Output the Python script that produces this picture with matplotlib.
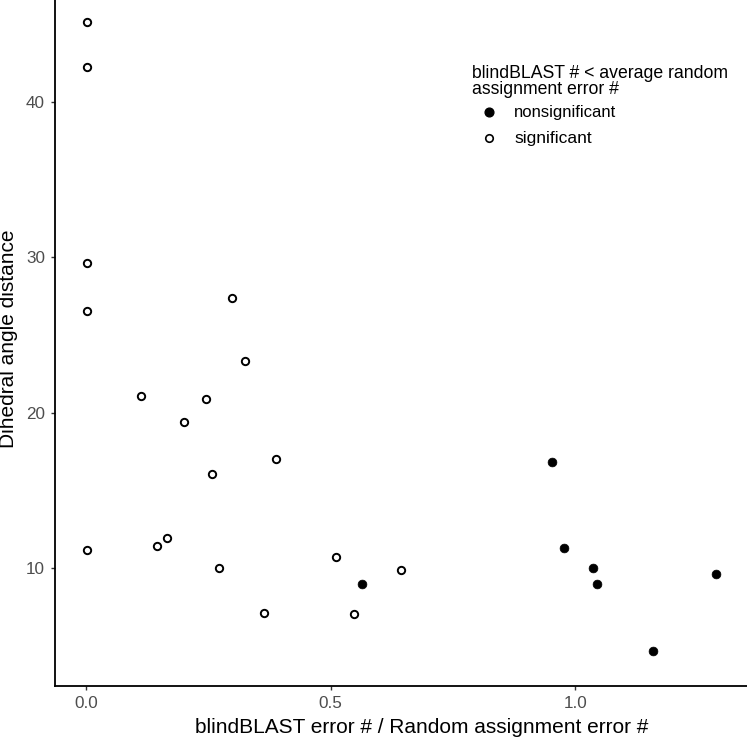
import matplotlib
matplotlib.use("Agg")
import matplotlib.pyplot as plt
from matplotlib.lines import Line2D

plt.rcParams['font.family'] = ['Liberation Sans', 'DejaVu Sans']

# significant (open circles)
sig_x = [0.003, 0.003, 0.003, 0.003, 0.003, 0.298, 0.325, 0.112, 0.245, 0.200,
         0.388, 0.257, 0.146, 0.166, 0.271, 0.363, 0.510, 0.643, 0.547]
sig_y = [45.14, 42.24, 29.62, 26.55, 11.16, 27.39, 23.35, 21.06, 20.86, 19.38,
         17.02, 16.07, 11.42, 11.95, 10.02, 7.08, 10.69, 9.89, 7.02]
# nonsignificant (filled circles)
non_x = [0.565, 0.952, 0.977, 1.036, 1.044, 1.288, 1.159]
non_y = [8.97, 16.80, 11.29, 10.02, 8.97, 9.59, 4.64]

x_ticks = [0.0, 0.5, 1.0]
x_ticklabels = ["0.0", "0.5", "1.0"]
y_ticks = [10, 20, 30, 40]
y_ticklabels = ["10", "20", "30", "40"]

legend_title = ["blindBLAST # < average random", "assignment error #"]
legend_labels = ["nonsignificant", "significant"]

W, H = 747, 743
fig = plt.figure(figsize=(W / 100, H / 100), dpi=100)
left, right, bottom, top = 55, 789, 686, -9
ax = fig.add_axes([left / W, 1 - bottom / H, (right - left) / W, (bottom - top) / H])

ax.scatter(sig_x, sig_y, s=28, facecolors='white', edgecolors='black', linewidths=1.4, zorder=3)
ax.scatter(non_x, non_y, s=40, facecolors='black', edgecolors='black', linewidths=0.5, zorder=3)

ax.set_xlim(-0.0634, 1.4368)
ax.set_ylim(2.40, 47.15)
ax.set_xticks(x_ticks)
ax.set_xticklabels(x_ticklabels)
ax.set_yticks(y_ticks)
ax.set_yticklabels(y_ticklabels)

for s in ['top', 'right']:
    ax.spines[s].set_visible(False)
for s in ['left', 'bottom']:
    ax.spines[s].set_linewidth(1.3)
    ax.spines[s].set_color('black')
ax.tick_params(axis='both', length=3.2, width=1.0, color='#333333',
               labelcolor='#4D4D4D', labelsize=12.3, pad=4)

ax.set_xlabel("blindBLAST error # / Random assignment error #", fontsize=15, labelpad=5)
ax.set_ylabel("Dihedral angle distance", fontsize=15, labelpad=6)

# legend drawn in figure pixel positions
def fx(px):
    return px / W

def fy(py):
    return 1 - py / H

fig.text(fx(472), fy(78), legend_title[0], fontsize=12.7, ha='left', va='baseline')
fig.text(fx(472), fy(94.5), legend_title[1], fontsize=12.7, ha='left', va='baseline')
fig.add_artist(Line2D([fx(489)], [fy(111.7)], transform=fig.transFigure, linestyle='none',
                      marker='o', markersize=6.3, markerfacecolor='black',
                      markeredgecolor='black'))
fig.add_artist(Line2D([fx(489)], [fy(138.3)], transform=fig.transFigure, linestyle='none',
                      marker='o', markersize=5.4, markerfacecolor='white',
                      markeredgecolor='black', markeredgewidth=1.2))
fig.text(fx(514), fy(116.5), legend_labels[0], fontsize=12, ha='left', va='baseline')
fig.text(fx(514), fy(143), legend_labels[1], fontsize=12.5, ha='left', va='baseline')

fig.savefig("out.png", dpi=100)
